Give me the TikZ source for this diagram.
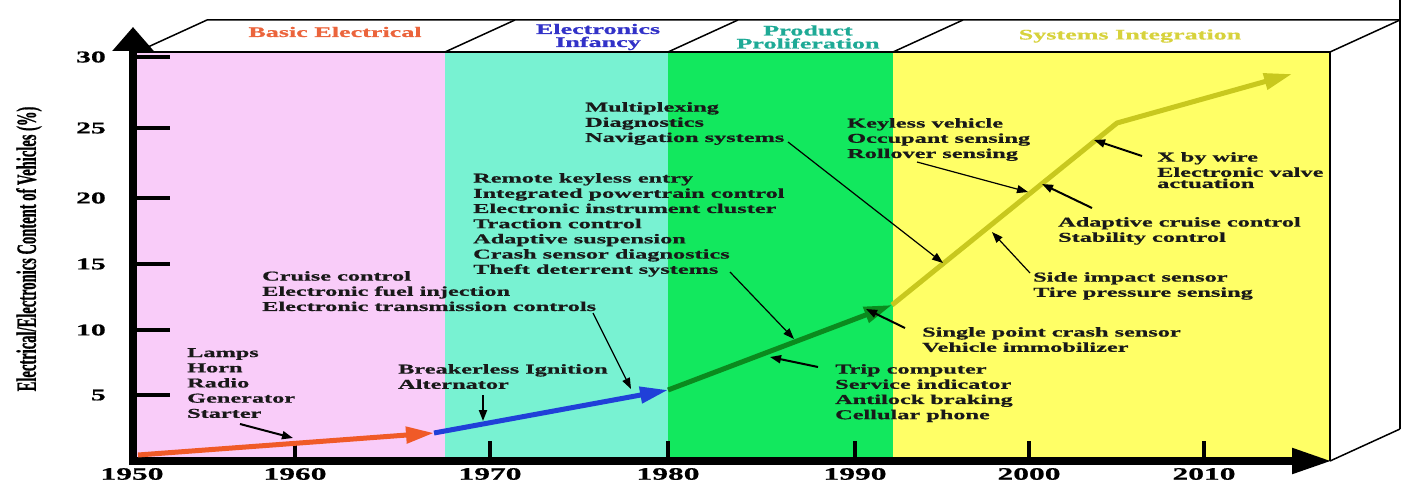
\documentclass[tikz,border=0pt]{standalone}
\usepackage{fontspec}
\newfontfamily\widefont[FakeStretch=1.8,FakeBold=0.8]{Liberation Serif}
\newfontfamily\tallfont[FakeStretch=0.52,FakeBold=0.6]{Liberation Serif}
\usetikzlibrary{arrows.meta}

\definecolor{bandpink}{HTML}{F9CCF9}
\definecolor{bandteal}{HTML}{78F2D2}
\definecolor{bandgreen}{HTML}{12E85E}
\definecolor{bandyellow}{HTML}{FFFF66}
\definecolor{lineorange}{HTML}{F05A28}
\definecolor{lineblue}{HTML}{2040D8}
\definecolor{linegreen}{HTML}{0B8A1E}
\definecolor{lineyellow}{HTML}{C8C81E}
\definecolor{hdrorange}{HTML}{EB643C}
\definecolor{hdrblue}{HTML}{3232C8}
\definecolor{hdrteal}{HTML}{1EAA96}
\definecolor{hdryellow}{HTML}{D7D23C}

\newcommand{\txtfont}{\widefont\bfseries\fontsize{13.5}{15.2}\selectfont}
\newcommand{\hdrfont}{\widefont\bfseries\fontsize{14.5}{13}\selectfont}
\newcommand{\yearfont}{\widefont\bfseries\fontsize{17.5}{18}\selectfont}
\newcommand{\tickfont}{\widefont\bfseries\fontsize{16.5}{18}\selectfont}
\newcommand{\axisfont}{\tallfont\bfseries\fontsize{28}{30}\selectfont}

\begin{document}
\begin{tikzpicture}[x=1pt,y=-1pt,
  txt/.style={anchor=north west,align=left,inner sep=0pt,text=black!90,font=\txtfont},
  hdr/.style={align=center,inner sep=0pt,font=\hdrfont},
  growth/.style={line width=5pt,-{Triangle[length=28pt,width=16pt]}},
  callout/.style={line width=1.2pt,-{Triangle[length=11pt,width=8pt]}},
  callout thick/.style={callout,line width=2pt},
  edge/.style={line width=1.5pt}
  ]
\useasboundingbox (0,0) rectangle (1413,481);

% colour bands
\fill[bandpink] (137,52) rectangle (445,461);
\fill[bandteal] (445,52) rectangle (668,461);
\fill[bandgreen] (668,52) rectangle (893,461);
\fill[bandyellow] (893,52) rectangle (1330,461);

% box
\draw[edge] (137,52) -- (1330,52);
\draw[edge] (137,52) -- (207,20) -- (1400,20);
\foreach \bx in {445,668,893} \draw[edge] (\bx,52) -- (\bx+70,20);
\draw[line width=2.5pt] (1330,52) -- (1330,461);
\draw[edge] (1330,52) -- (1400,20);
\draw[edge] (1330,461) -- (1400,429);
\draw[line width=2pt] (1400,0) -- (1400,429);

% axes
\draw[line width=8pt,-{Triangle[length=40pt,width=24pt]}] (129,461) -- (1332,461);
\draw[line width=8pt,-{Triangle[length=24pt,width=40pt]}] (133,465) -- (133,27);
\foreach \ty/\tv in {57/30,128/25,198/20,264/15,330/10,395/5}{
  \draw[line width=4pt] (133,\ty) -- (170,\ty);
  \node[anchor=east,inner sep=0pt,font=\tickfont] (tick\tv) at (106,\ty) {\tv};
}
\foreach \tx in {295,490,668,855,1029,1204}
  \draw[line width=4pt] (\tx,461) -- (\tx,441);
\foreach \tx/\yr in {132/1950,295/1960,490/1970,668/1980,855/1990,1029/2000,1204/2010}
  \node[inner sep=0pt,font=\yearfont] (yr\yr) at (\tx,474) {\yr};
\node[rotate=90,inner sep=0pt,font=\axisfont] (ylabel) at (29,249)
  {Electrical/Electronics Content of Vehicles (\%)};

% eras
\node[hdr,text=hdrorange] (hdrBasic) at (335,32) {Basic Electrical};
\node[hdr,text=hdrblue] (hdrInfancy) at (598,37) {Electronics\\Infancy};
\node[hdr,text=hdrteal] (hdrProlif) at (808,37) {Product\\Proliferation};
\node[hdr,text=hdryellow] (hdrSystems) at (1130,36) {Systems Integration};

% growth line
\coordinate (g0) at (138,455);
\coordinate (g1) at (434,433);
\coordinate (g2) at (668,390);
\coordinate (g3) at (892,305);
\coordinate (gbend) at (1117,123);
\coordinate (g4) at (1292,74);
\draw[growth,lineyellow,line join=round] (g3) -- (gbend) -- (g4);
\draw[growth,linegreen] (g2) -- (g3);
\draw[growth,lineblue] (g1) -- (g2);
\draw[growth,lineorange] (g0) -- (g1);

% features
\node[txt] (lamps) at (187,348) {Lamps\\Horn\\Radio\\Generator\\Starter};
\node[txt] (cruise) at (262,271) {Cruise control\\Electronic fuel injection\\Electronic transmission controls};
\node[txt] (breakerless) at (398,364) {Breakerless Ignition\\Alternator};
\node[txt] (remote) at (473,173) {Remote keyless entry\\Integrated powertrain control\\Electronic instrument cluster\\Traction control\\Adaptive suspension\\Crash sensor diagnostics\\Theft deterrent systems};
\node[txt] (multiplex) at (585,102) {Multiplexing\\Diagnostics\\Navigation systems};
\node[txt] (trip) at (835,364) {Trip computer\\Service indicator\\Antilock braking\\Cellular phone};
\node[txt] (single) at (922,327) {Single point crash sensor\\Vehicle immobilizer};
\node[txt] (keyless) at (847,118) {Keyless vehicle\\Occupant sensing\\Rollover sensing};
\node[txt] (adaptive) at (1058,217) {Adaptive cruise control\\Stability control};
\node[txt] (side) at (1033,272) {Side impact sensor\\Tire pressure sensing};
\node[txt] (xwire) at (1157,152) {X by wire\\Electronic valve\\[-4pt]actuation};

% callouts
\coordinate (starterTail) at (240,424); \coordinate (starterTip) at (293,438);
\coordinate (altTail) at (483,395);     \coordinate (altTip) at (483,421);
\coordinate (etcTail) at (593,313);     \coordinate (etcTip) at (631,389);
\coordinate (theftTail) at (730,272);   \coordinate (theftTip) at (794,339);
\coordinate (navTail) at (788,142);     \coordinate (navTip) at (943,263);
\coordinate (tripTail) at (818,367);    \coordinate (tripTip) at (770,357);
\coordinate (singleTail) at (905,328);  \coordinate (singleTip) at (866,309);
\coordinate (rollTail) at (917,162);    \coordinate (rollTip) at (1028,192);
\coordinate (sideTail) at (1030,273);   \coordinate (sideTip) at (992,232);
\coordinate (accTail) at (1092,208);    \coordinate (accTip) at (1042,184);
\coordinate (xbwTail) at (1142,156);    \coordinate (xbwTip) at (1094,140);
\draw[callout thick] (starterTail) -- (starterTip);
\draw[callout thick] (altTail) -- (altTip);
\draw[callout] (etcTail) -- (etcTip);
\draw[callout] (theftTail) -- (theftTip);
\draw[callout] (navTail) -- (navTip);
\draw[callout thick] (tripTail) -- (tripTip);
\draw[callout thick] (singleTail) -- (singleTip);
\draw[callout] (rollTail) -- (rollTip);
\draw[callout] (sideTail) -- (sideTip);
\draw[callout thick] (accTail) -- (accTip);
\draw[callout thick] (xbwTail) -- (xbwTip);
\end{tikzpicture}
\end{document}
